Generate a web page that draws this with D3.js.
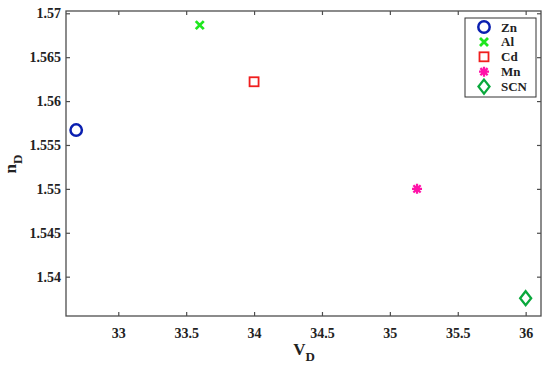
<!DOCTYPE html>
<html><head><meta charset="utf-8">
<script src="https://cdn.jsdelivr.net/npm/d3@7"></script>
<style>body{margin:0;background:#fff}svg{display:block}</style>
</head><body>
<svg id="c" width="550" height="368"></svg>
<script>
const names = ["Zn","Al","Cd","Mn","SCN"];
const vD = [32.69, 33.6, 34.0, 35.2, 36.0];
const nD = [1.5567, 1.56865, 1.5622, 1.5500, 1.53755];
const colors = ["#0a1fb0","#1ee61e","#f01e1e","#ff12a8","#0aa83c"];
const shapes = ["circle","x","square","star","diamond"];
const xTicks = [33,33.5,34,34.5,35,35.5,36];
const yTicks = [1.54,1.545,1.55,1.555,1.56,1.565,1.57];

const svg = d3.select("#c");
const L=66, R=541, T=11, B=316;
const x = d3.scaleLinear().domain([32.615,36.113]).range([L,R]);
const y = d3.scaleLinear().domain([1.53552,1.57026]).range([B,T]);
const font = "Liberation Serif, Times New Roman, Times, serif";
const axc = "#4d4d4d";

function fmt(v){return String(+v.toFixed(3));}
const ax = svg.append("g").attr("transform",`translate(0,${B})`).call(d3.axisBottom(x).tickValues(xTicks).tickSize(-4).tickPadding(12).tickFormat(fmt));
const axT = svg.append("g").attr("transform",`translate(0,${T})`).call(d3.axisTop(x).tickValues(xTicks).tickSize(-4).tickFormat(""));
const ay = svg.append("g").attr("transform",`translate(${L},0)`).call(d3.axisLeft(y).tickValues(yTicks).tickSize(-4).tickPadding(5).tickFormat(fmt));
const ayR = svg.append("g").attr("transform",`translate(${R},0)`).call(d3.axisRight(y).tickValues(yTicks).tickSize(-4).tickFormat(""));
[ax,axT,ay,ayR].forEach(g=>{
  g.select(".domain").remove();
  g.attr("font-family",null);
  g.selectAll("line").attr("stroke",axc).attr("stroke-width",1.2);
  g.selectAll("text").style("font-family",font).style("font-weight","bold").style("font-size","14px").attr("fill","#222");
});
svg.append("rect").attr("x",L).attr("y",T).attr("width",R-L).attr("height",B-T).attr("fill","none").attr("stroke",axc).attr("stroke-width",1.3);

// axis labels
const xl = svg.append("text").attr("x",304).attr("y",355).attr("text-anchor","middle").style("font-family",font).style("font-weight","bold").style("font-size","17px").attr("fill","#222");
xl.append("tspan").text("V");
xl.append("tspan").attr("dy",6).style("font-size","13px").text("D");
const yl = svg.append("text").attr("transform","translate(16,164) rotate(-90)").attr("text-anchor","middle").style("font-family",font).style("font-weight","bold").style("font-size","17px").attr("fill","#222");
yl.append("tspan").text("n");
yl.append("tspan").attr("dy",6).style("font-size","13px").text("D");

function marker(g, shape, color){
  if(shape==="circle") g.append("circle").attr("r",5.7).attr("fill","none").attr("stroke",color).attr("stroke-width",2.5);
  else if(shape==="x") g.append("path").attr("d","M-4,-4L4,4M-4,4L4,-4").attr("stroke",color).attr("stroke-width",2.8);
  else if(shape==="square") g.append("rect").attr("x",-4.5).attr("y",-4.5).attr("width",9).attr("height",9).attr("fill","none").attr("stroke",color).attr("stroke-width",1.8);
  else if(shape==="star") g.append("path").attr("d","M0,-5L0,5M-5,0L5,0M-3.6,-3.6L3.6,3.6M-3.6,3.6L3.6,-3.6").attr("stroke",color).attr("stroke-width",2.3);
  else if(shape==="diamond") g.append("path").attr("d","M0,-7L5.5,0L0,7L-5.5,0Z").attr("fill","none").attr("stroke",color).attr("stroke-width",2.3);
}
names.forEach((n,i)=>{
  const g = svg.append("g").attr("transform",`translate(${x(vD[i])},${y(nD[i])})`);
  marker(g, shapes[i], colors[i]);
});

// legend
const lg = svg.append("g");
lg.append("rect").attr("x",465).attr("y",18).attr("width",71).attr("height",79).attr("fill","#fff").attr("stroke","#333").attr("stroke-width",1);
names.forEach((n,i)=>{
  const yy = 27 + i*14.9;
  const g = lg.append("g").attr("transform",`translate(484,${yy})`);
  marker(g, shapes[i], colors[i]);
  lg.append("text").attr("x",501).attr("y",yy+4.5).style("font-family",font).style("font-weight","bold").style("font-size","13px").attr("fill","#222").text(n);
});
</script>
</body></html>
